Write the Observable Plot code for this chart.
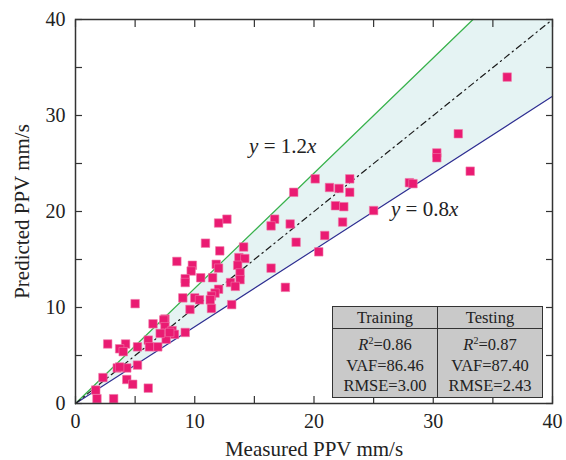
<!DOCTYPE html>
<html>
<head>
<meta charset="utf-8">
<script src="https://cdn.jsdelivr.net/npm/d3@7"></script>
<script src="https://cdn.jsdelivr.net/npm/@observablehq/plot@0.6"></script>
<style>
  html, body { margin: 0; padding: 0; background: #fff; }
  #wrap { position: relative; width: 566px; height: 460px; font-family: "Liberation Serif", "DejaVu Serif", serif; color: #222; }
  #stats { position: absolute; left: 332px; top: 306px; width: 211px; height: 88px; border-collapse: collapse; background: #c9c9c9; font-size: 16.5px; color: #222; }
  #stats th, #stats td { border: 1.5px solid #333; text-align: center; font-weight: normal; padding: 0; }
  #stats th { height: 21px; line-height: 20px; }
  #stats td { vertical-align: top; padding-top: 2px; }
  #stats td div { line-height: 20.5px; }
</style>
</head>
<body>
<div id="wrap">
  <div id="chart"></div>
  <table id="stats"></table>
</div>
<script>
// ---- data ----
const measured = [36.2,32.1,33.1,30.3,30.3,28.0,28.3,25.0,23.0,20.1,21.3,22.1,23.0,21.8,22.5,22.4,20.9,20.4,18.3,16.7,16.4,18.0,18.5,16.4,17.6,12.7,12.0,10.9,12.1,8.5,14.1,9.8,9.7,11.8,12.0,13.7,14.2,13.6,13.8,13.8,13.0,13.4,9.2,9.2,10.5,11.5,12.0,11.7,11.4,11.3,10.0,10.4,9.0,11.4,9.6,13.1,7.5,5.0,6.5,7.4,7.5,7.6,8.1,8.3,7.6,6.9,6.1,2.7,4.2,3.7,4.0,5.2,3.5,4.3,5.2,2.3,4.3,4.8,6.1,1.7,1.8,3.2,9.2,3.7,6.2,7.1,7.9];
const predicted = [34.0,28.1,24.2,26.1,25.6,23.0,22.9,20.1,23.4,23.4,22.5,22.4,22.0,20.6,20.5,18.9,17.5,15.8,22.0,19.2,18.5,18.7,16.8,14.1,12.1,19.2,18.8,16.7,15.9,14.8,16.3,14.4,13.8,14.5,14.1,15.2,15.1,14.4,13.6,12.9,12.6,12.2,13.0,12.6,13.1,13.1,11.9,11.5,11.2,10.8,11.0,10.8,11.0,9.9,9.8,10.3,8.8,10.4,8.3,8.7,8.0,7.3,7.6,7.2,6.7,5.9,6.6,6.2,6.2,5.7,5.4,5.9,3.7,3.7,4.0,2.7,2.5,2.0,1.6,1.4,0.5,0.5,7.4,3.8,5.9,7.3,7.4];
const axisMax = 40;
const majorTicks = [0, 10, 20, 30, 40];
const minorTicks = [0, 5, 10, 15, 20, 25, 30, 35, 40];
const upperSlope = 1.2;
const lowerSlope = 0.8;
const idealSlope = 1.0;
const eqLabels = ["1.2", "0.8"];
const eqLabelX = [14.6, 26.5];
const eqLabelY = [26.0, 19.5];
const models = ["Training", "Testing"];
const r2 = ["0.86", "0.87"];
const vaf = ["86.46", "87.40"];
const rmse = ["3.00", "2.43"];

// ---- derived tables ----
const points = measured.map((m, i) => ({m, p: predicted[i]}));
const lineThrough = (s) => {
  const xEnd = Math.min(axisMax, axisMax / s);
  return [{x: 0, y: 0}, {x: xEnd, y: s * xEnd}];
};
const xKnee = axisMax / upperSlope;
const band = [
  {x: 0, lo: 0, hi: 0},
  {x: xKnee, lo: lowerSlope * xKnee, hi: axisMax},
  {x: axisMax, lo: lowerSlope * axisMax, hi: axisMax}
];

const tickStyle = {tickSize: -7, tickFormat: () => "", label: null, stroke: "#333", strokeWidth: 1.2};

const plot = Plot.plot({
  width: 566, height: 460,
  marginLeft: 75, marginRight: 14, marginTop: 19, marginBottom: 57,
  x: {domain: [0, axisMax], label: null},
  y: {domain: [0, axisMax], label: null},
  style: {fontFamily: '"Liberation Serif", "DejaVu Serif", serif', fontSize: "20px", color: "#222", background: "#fff", overflow: "visible"},
  marks: [
    Plot.areaY(band, {x: "x", y1: "lo", y2: "hi", fill: "#e5f3f3"}),
    Plot.line(lineThrough(upperSlope), {x: "x", y: "y", stroke: "#38b24a", strokeWidth: 1.2}),
    Plot.line(lineThrough(lowerSlope), {x: "x", y: "y", stroke: "#2d2f91", strokeWidth: 1.2}),
    Plot.line(lineThrough(idealSlope), {x: "x", y: "y", stroke: "#1a1a1a", strokeWidth: 1.2, strokeDasharray: "6,4,1.3,4"}),
    Plot.dot(points, {x: "m", y: "p", symbol: "square", r: 4.8, fill: "#ea1b72", stroke: "#f07aa9", strokeWidth: 0.6}),
    Plot.axisX({anchor: "bottom", ticks: minorTicks, ...tickStyle}),
    Plot.axisX({anchor: "top", ticks: minorTicks, ...tickStyle}),
    Plot.axisY({anchor: "left", ticks: minorTicks, ...tickStyle}),
    Plot.axisY({anchor: "right", ticks: minorTicks, ...tickStyle}),
    Plot.axisX({anchor: "bottom", ticks: majorTicks, tickSize: 0, tickPadding: 10, fontSize: 20}),
    Plot.axisY({anchor: "left", ticks: majorTicks, tickSize: 0, tickPadding: 10, fontSize: 20}),
    Plot.axisX({anchor: "bottom", ticks: [], tickSize: 0, label: "Measured PPV mm/s", labelAnchor: "center", labelOffset: 52, labelArrow: "none", fontSize: 21}),
    Plot.axisY({anchor: "left", ticks: [], tickSize: 0, label: "Predicted PPV mm/s", labelAnchor: "center", labelOffset: 61, labelArrow: "none", fontSize: 21}),
    Plot.frame({stroke: "#333", strokeWidth: 1.5})
  ]
});
document.getElementById("chart").appendChild(plot);

// equation labels with italic variables, placed through the plot's scales
const sx = plot.scale("x"), sy = plot.scale("y");
const svg = d3.select(plot);
eqLabels.forEach((k, i) => {
  const t = svg.append("text")
    .attr("x", sx.apply(eqLabelX[i]))
    .attr("y", sy.apply(eqLabelY[i]))
    .attr("text-anchor", "start")
    .attr("font-size", 21)
    .attr("fill", "#222");
  t.append("tspan").attr("font-style", "italic").text("y");
  t.append("tspan").text(" = " + k);
  t.append("tspan").attr("font-style", "italic").text("x");
});

// stats table
const table = d3.select("#stats");
table.append("tr").selectAll("th").data(models).join("th").text(d => d);
const row = table.append("tr");
models.forEach((m, i) => {
  const td = row.append("td");
  const l1 = td.append("div");
  l1.append("i").text("R");
  l1.append("sup").style("font-size", "10px").style("vertical-align", "6px").text("2");
  l1.append("span").text("=" + r2[i]);
  td.append("div").text("VAF=" + vaf[i]);
  td.append("div").text("RMSE=" + rmse[i]);
});
</script>
</body>
</html>
